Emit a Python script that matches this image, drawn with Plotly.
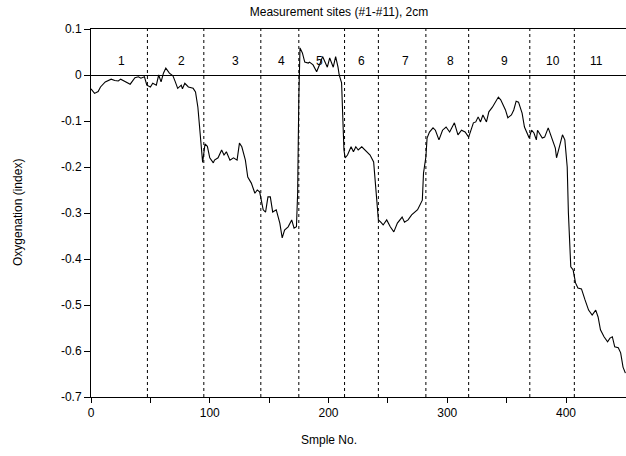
import plotly.graph_objects as go

# Oxygenation index recorded along the probe path, sample by sample
sample_no = [
    0, 3, 6, 8, 12, 17, 20, 23, 25, 29, 33, 37, 40, 42, 45, 47, 50, 52, 55, 57,
    59, 61, 63, 66, 69, 71, 73, 76, 77, 79, 82, 86, 88, 90, 92, 93, 94, 96, 98, 100,
    103, 104, 107, 110, 112, 114, 117, 120, 123, 125, 127, 130, 132, 135, 138, 140, 142, 145, 147, 149,
    151, 153, 156, 159, 161, 163, 166, 169, 171, 173, 174, 175, 176, 178, 180, 183, 184, 187, 190, 193,
    195, 199, 201, 204, 206, 208, 209, 211, 212, 213, 214, 216, 219, 221, 223, 225, 228, 231, 235, 238,
    240, 242, 244, 246, 249, 252, 255, 258, 262, 264, 267, 270, 275, 277, 279, 280, 282, 283, 285, 288,
    290, 293, 296, 299, 302, 306, 309, 312, 315, 318, 320, 322, 324, 326, 328, 330, 333, 335, 338, 340,
    343, 345, 347, 349, 351, 354, 356, 358, 360, 363, 365, 367, 369, 371, 373, 375, 376, 380, 382, 385,
    388, 391, 392, 395, 397, 399, 401, 402, 404, 406, 408, 410, 413, 416, 419, 422, 425, 427, 429, 432,
    435, 437, 439, 441, 444, 446, 448, 450,
]
oxygenation = [
    -0.030, -0.040, -0.036, -0.026, -0.015, -0.009, -0.012, -0.013, -0.009, -0.015,
    -0.020, -0.006, -0.004, -0.007, -0.004, -0.022, -0.026, -0.018, -0.022, 0.000,
    -0.015, 0.004, 0.015, 0.004, -0.002, -0.015, -0.029, -0.022, -0.030, -0.018,
    -0.026, -0.029, -0.037, -0.070, -0.130, -0.167, -0.190, -0.150, -0.155, -0.180,
    -0.191, -0.185, -0.180, -0.163, -0.174, -0.167, -0.185, -0.180, -0.185, -0.148,
    -0.156, -0.185, -0.222, -0.235, -0.257, -0.250, -0.254, -0.293, -0.298, -0.265,
    -0.265, -0.298, -0.293, -0.322, -0.354, -0.337, -0.330, -0.315, -0.333, -0.330,
    -0.257, -0.050, 0.059, 0.048, 0.028, 0.026, 0.028, 0.022, 0.007, 0.026,
    0.040, 0.017, 0.037, 0.017, 0.040, 0.017, 0.000, -0.017, -0.104, -0.163,
    -0.180, -0.174, -0.156, -0.167, -0.156, -0.163, -0.156, -0.163, -0.174, -0.189,
    -0.250, -0.315, -0.320, -0.326, -0.315, -0.330, -0.341, -0.322, -0.309, -0.320,
    -0.315, -0.304, -0.293, -0.283, -0.272, -0.213, -0.178, -0.137, -0.124, -0.115,
    -0.120, -0.141, -0.120, -0.113, -0.124, -0.104, -0.130, -0.120, -0.124, -0.135,
    -0.120, -0.104, -0.102, -0.091, -0.102, -0.087, -0.102, -0.080, -0.070, -0.061,
    -0.048, -0.054, -0.065, -0.076, -0.093, -0.087, -0.076, -0.057, -0.059, -0.083,
    -0.113, -0.126, -0.137, -0.120, -0.126, -0.141, -0.120, -0.137, -0.135, -0.115,
    -0.137, -0.159, -0.180, -0.152, -0.130, -0.141, -0.200, -0.300, -0.417, -0.424,
    -0.452, -0.463, -0.465, -0.489, -0.511, -0.522, -0.511, -0.526, -0.554, -0.569,
    -0.580, -0.572, -0.569, -0.591, -0.593, -0.604, -0.635, -0.648,
]

# Boundaries between measurement sites (sample numbers)
site_boundaries = [47.5, 95, 143, 175, 213.5, 242, 282, 318, 369.5, 407]
# Site numbers and where their labels sit along the x axis
site_labels = ["1", "2", "3", "4", "5", "6", "7", "8", "9", "10", "11"]
site_label_x = [26, 76, 122, 160, 192, 228, 265, 303, 348, 389, 426]
site_label_y = 0.03

x_tickvals = [0, 50, 100, 150, 200, 250, 300, 350, 400]
x_ticktext = ["0", "", "100", "", "200", "", "300", "", "400"]
y_tickvals = [0.1, 0, -0.1, -0.2, -0.3, -0.4, -0.5, -0.6, -0.7]
y_ticktext = ["0.1", "0", "-0.1", "-0.2", "-0.3", "-0.4", "-0.5", "-0.6", "-0.7"]

FONT = "Liberation Sans, Arial, sans-serif"

fig = go.Figure()

fig.add_trace(go.Scatter(
    x=sample_no, y=oxygenation, mode="lines",
    line=dict(color="black", width=1.1),
    showlegend=False, hoverinfo="x+y",
))

for xb in site_boundaries:
    fig.add_shape(type="line", xref="x", yref="y", x0=xb, x1=xb, y0=-0.7, y1=0.1,
                  line=dict(color="black", width=1, dash="3px,3px"))

for lbl, lx in zip(site_labels, site_label_x):
    fig.add_annotation(x=lx, y=site_label_y, xref="x", yref="y", text=lbl,
                       showarrow=False, font=dict(family=FONT, size=12, color="black"))

# Axis titles, placed relative to the plot area (91..626 x 29..397 px)
fig.add_annotation(x=(329 - 91) / 535, y=(397 - 440) / 368, xref="paper", yref="paper",
                   text="Smple No.", showarrow=False, xanchor="center", yanchor="middle",
                   font=dict(family=FONT, size=12, color="black"))
fig.add_annotation(x=-73 / 535, y=0.5, xref="paper", yref="paper",
                   text="Oxygenation (index)", showarrow=False, textangle=-90,
                   xanchor="center", yanchor="middle",
                   font=dict(family=FONT, size=12, color="black"))

fig.update_layout(
    width=626, height=456,
    margin=dict(l=91, r=0, t=29, b=59),
    paper_bgcolor="white", plot_bgcolor="white",
    title=dict(text="Measurement sites (#1-#11), 2cm", x=339 / 626, xanchor="center",
               y=1 - 12 / 456, yanchor="middle",
               font=dict(family=FONT, size=12, color="black")),
    font=dict(family=FONT, size=12, color="black"),
    xaxis=dict(range=[0, 450.5], tickvals=x_tickvals, ticktext=x_ticktext,
               showgrid=False, zeroline=False, showline=True, linecolor="black",
               linewidth=1, mirror=True, ticks="outside", ticklen=5,
               tickcolor="black", tickfont=dict(family=FONT, size=12)),
    yaxis=dict(range=[-0.7, 0.1], tickvals=y_tickvals, ticktext=y_ticktext,
               showgrid=False, zeroline=True, zerolinecolor="black", zerolinewidth=1,
               showline=True, linecolor="black", linewidth=1, mirror=False,
               ticks="outside", ticklen=6, tickcolor="black",
               tickfont=dict(family=FONT, size=12)),
)

fig.write_html("out.html")
